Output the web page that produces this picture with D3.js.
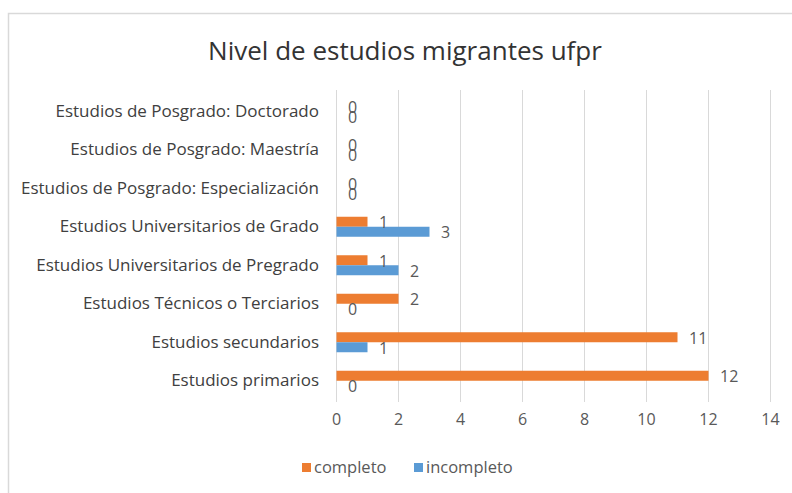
<!DOCTYPE html>
<html>
<head>
<meta charset="utf-8">
<script src="https://cdn.jsdelivr.net/npm/d3@7"></script>
<style>
  body { margin: 0; background: #fff; }
  svg { display: block; font-family: "Open Sans", sans-serif; }
</style>
</head>
<body>
<svg id="chart" width="792" height="493"></svg>
<script>
// categories, top to bottom
var categories = [
  "Estudios de Posgrado: Doctorado",
  "Estudios de Posgrado: Maestría",
  "Estudios de Posgrado: Especialización",
  "Estudios Universitarios de Grado",
  "Estudios Universitarios de Pregrado",
  "Estudios Técnicos o Terciarios",
  "Estudios secundarios ",
  "Estudios primarios"
];
var completo = [0, 0, 0, 1, 1, 2, 11, 12];
var incompleto = [0, 0, 0, 3, 2, 0, 1, 0];
var seriesNames = ["completo", "incompleto"];
var xTicks = [0, 2, 4, 6, 8, 10, 12, 14];

var colors = { completo: "#ED7D31", incompleto: "#5B9BD5" };

var svg = d3.select("svg#chart");

// chart frame
svg.append("rect")
  .attr("x", 8.5)
  .attr("y", 13.5)
  .attr("width", 800)
  .attr("height", 500)
  .attr("fill", "#fff")
  .attr("stroke", "#d9d9d9")
  .attr("stroke-width", 1.5);

var plot = { left: 336, right: 770, top: 92, bottom: 400 };

var x = d3.scaleLinear().domain([0, 14]).range([plot.left, plot.right]);
var y = d3.scaleBand().domain(categories).range([plot.top, plot.bottom]);
var ySub = d3.scaleBand()
  .domain(seriesNames)
  .range([y.bandwidth() / 2 - 10, y.bandwidth() / 2 + 10]);

// gridlines
svg.append("g")
  .attr("class", "grid")
  .selectAll("line")
  .data(xTicks)
  .enter()
  .append("line")
  .attr("x1", function(d) { return x(d) + 0.5; })
  .attr("x2", function(d) { return x(d) + 0.5; })
  .attr("y1", plot.top - 2)
  .attr("y2", plot.bottom + 2)
  .attr("stroke", "#d9d9d9")
  .attr("stroke-width", 1);

// x axis labels
var xAxis = svg.append("g")
  .attr("transform", "translate(0," + (plot.bottom + 14) + ")")
  .call(d3.axisBottom(x).tickValues(xTicks).tickSize(0).tickPadding(0));
xAxis.select(".domain").remove();
xAxis.selectAll("text")
  .attr("fill", "#595959")
  .style("font-size", "16px")
  .style("font-family", "'Open Sans', sans-serif");

// y axis labels
var yAxis = svg.append("g")
  .attr("transform", "translate(" + (plot.left - 17) + ",0)")
  .call(d3.axisLeft(y).tickSize(0).tickPadding(0));
yAxis.select(".domain").remove();
yAxis.selectAll("text")
  .attr("fill", "#404040")
  .style("font-size", "17px")
  .style("font-family", "'Open Sans', sans-serif");

// build rows for both series
var rows = [];
categories.forEach(function(c, i) {
  rows.push({ cat: c, key: "completo", value: completo[i] });
  rows.push({ cat: c, key: "incompleto", value: incompleto[i] });
});

svg.append("g")
  .attr("class", "bars")
  .selectAll("rect")
  .data(rows)
  .enter()
  .append("rect")
  .attr("x", x(0) + 0.5)
  .attr("y", function(d) { return y(d.cat) + ySub(d.key); })
  .attr("width", function(d) { return Math.max(0, x(d.value) - x(0)); })
  .attr("height", ySub.bandwidth())
  .attr("fill", function(d) { return colors[d.key]; });

// value labels
svg.append("g")
  .attr("class", "labels")
  .selectAll("text")
  .data(rows)
  .enter()
  .append("text")
  .attr("x", function(d) { return x(d.value) + 12; })
  .attr("y", function(d) { return y(d.cat) + ySub(d.key) + ySub.bandwidth() / 2 + 1; })
  .attr("dy", "0.35em")
  .attr("fill", "#595959")
  .style("font-size", "16px")
  .text(function(d) { return d.value; });

// title
svg.append("text")
  .attr("x", 405)
  .attr("y", 60)
  .attr("text-anchor", "middle")
  .attr("fill", "#333")
  .style("font-size", "26px")
  .text("Nivel de estudios migrantes ufpr");

// legend
var legend = svg.append("g")
  .attr("class", "legend")
  .selectAll("g")
  .data(seriesNames)
  .enter()
  .append("g")
  .attr("transform", function(d, i) {
    return "translate(" + (i === 0 ? 302 : 414) + ",463)";
  });

legend.append("rect")
  .attr("width", 9)
  .attr("height", 9)
  .attr("fill", function(d) { return colors[d]; });

legend.append("text")
  .attr("x", 12)
  .attr("y", 4.5)
  .attr("dy", "0.35em")
  .attr("fill", "#595959")
  .style("font-size", "16.5px")
  .text(function(d) { return d; });
</script>
</body>
</html>
